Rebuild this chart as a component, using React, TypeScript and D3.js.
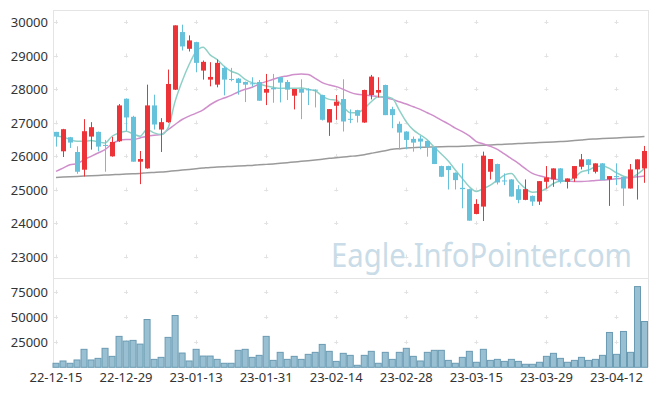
import React from 'react';
import * as d3 from 'd3';

// trading days shown on the chart
const dates = [
  '22-12-15', '22-12-16', '22-12-19', '22-12-20', '22-12-21', '22-12-22', '22-12-23', '22-12-26', '22-12-27', '22-12-28',
  '22-12-29', '23-01-02', '23-01-03', '23-01-04', '23-01-05', '23-01-06', '23-01-09', '23-01-10', '23-01-11', '23-01-12',
  '23-01-13', '23-01-16', '23-01-17', '23-01-18', '23-01-19', '23-01-20', '23-01-25', '23-01-26', '23-01-27', '23-01-30',
  '23-01-31', '23-02-01', '23-02-02', '23-02-03', '23-02-06', '23-02-07', '23-02-08', '23-02-09', '23-02-10', '23-02-13',
  '23-02-14', '23-02-15', '23-02-16', '23-02-17', '23-02-20', '23-02-21', '23-02-22', '23-02-23', '23-02-24', '23-02-27',
  '23-02-28', '23-03-02', '23-03-03', '23-03-06', '23-03-07', '23-03-08', '23-03-09', '23-03-10', '23-03-13', '23-03-14',
  '23-03-15', '23-03-16', '23-03-17', '23-03-20', '23-03-21', '23-03-22', '23-03-23', '23-03-24', '23-03-27', '23-03-28',
  '23-03-29', '23-03-30', '23-03-31', '23-04-03', '23-04-04', '23-04-05', '23-04-06', '23-04-07', '23-04-10', '23-04-11',
  '23-04-12', '23-04-13', '23-04-14', '23-04-17', '23-04-18',
];

const open = [
  26720, 26140, 26560, 26120, 25590, 26580, 26720, 26330, 25990, 26440,
  27710, 27170, 25830, 25630, 27510, 26790, 27010, 27980, 29700, 29200,
  29400, 28550, 28280, 28130, 28630, 28300, 28310, 28210, 28170, 28210,
  27890, 28030, 28350, 28210, 27800, 28000, 27990, 27980, 27820, 27000,
  27500, 27700, 27110, 27370, 27000, 27820, 27890, 28120, 27400, 26960,
  26730, 26510, 26520, 26450, 26260, 25700, 25700, 25500, 25050, 25010,
  24270, 24490, 25530, 25760, 25270, 25300, 25010, 24690, 24810, 24640,
  25230, 25300, 25630, 25230, 25330, 25680, 25900, 25530, 25780, 25300,
  25400, 25380, 25030, 25600, 25630,
];
const high = [
  26720, 26810, 26570, 26290, 27100, 27010, 26730, 26480, 26570, 27550,
  27720, 27200, 26150, 28130, 27830, 27130, 28580, 29900, 29920, 29600,
  29410, 28850, 28800, 28880, 28680, 28630, 28330, 28220, 28350, 28270,
  28450, 28450, 28350, 28270, 28000, 28290, 28020, 27990, 27830, 27400,
  27820, 28290, 27390, 27380, 27980, 28420, 28350, 28130, 27470, 27030,
  26740, 26580, 26600, 26460, 26270, 25710, 25710, 25510, 25780, 25020,
  24710, 26130, 25910, 25770, 25480, 25310, 25130, 25300, 24820, 25250,
  25700, 25630, 25640, 25330, 25700, 26060, 25910, 25780, 25790, 25400,
  25780, 25390, 25760, 25900, 26300,
];
const low = [
  26280, 25970, 26240, 25470, 25390, 26190, 26140, 25530, 25980, 26420,
  26750, 25830, 25160, 25620, 26790, 26120, 26990, 27970, 29150, 29120,
  28500, 28280, 28080, 28050, 27810, 28230, 27830, 27610, 28070, 27650,
  27520, 27590, 27600, 27670, 27390, 27100, 27520, 27450, 27060, 26600,
  27080, 26730, 26980, 27000, 26990, 27690, 27750, 27220, 26830, 26200,
  26200, 26130, 26200, 25980, 25760, 25370, 25000, 25000, 24440, 24070,
  24260, 24060, 25300, 25150, 25130, 24790, 24590, 24680, 24510, 24540,
  25030, 25080, 25180, 25030, 25230, 25600, 25460, 25480, 25280, 24510,
  25130, 24510, 25030, 24700, 25200,
];
const close = [
  26580, 26800, 26400, 25530, 26740, 26860, 26280, 26300, 26420, 27510,
  27150, 25830, 25910, 27510, 26940, 27010, 28150, 29900, 29270, 29450,
  28780, 28810, 28360, 28780, 28280, 28270, 28180, 28130, 28150, 27650,
  28000, 27990, 28190, 27980, 28000, 27890, 27970, 27960, 27080, 27400,
  27620, 27030, 27090, 27200, 27970, 28370, 27970, 27220, 27220, 26700,
  26480, 26400, 26430, 26260, 25760, 25380, 25580, 25280, 25010, 24070,
  24570, 26010, 25910, 25210, 25240, 24790, 24690, 25010, 24640, 25250,
  25360, 25630, 25230, 25330, 25700, 25900, 25730, 25780, 25280, 25400,
  25380, 25030, 25600, 25900, 26150,
];
const volume = [
  4000, 6300, 4000, 7300, 17900, 7300, 8900, 18900, 10900, 30800,
  26100, 26800, 23100, 47600, 7900, 9900, 29800, 51600, 14200, 6300,
  17900, 11200, 11200, 7900, 4000, 4000, 16900, 17900, 9900, 11900,
  30800, 6900, 14900, 7900, 10900, 7900, 12900, 14900, 22800, 15900,
  5900, 13900, 11900, 2000, 11900, 15900, 4000, 14900, 7900, 14900,
  18900, 10900, 6300, 14900, 16900, 16900, 6900, 4000, 9900, 15900,
  5000, 17900, 6900, 7900, 5900, 7900, 5900, 3000, 3000, 5000,
  10900, 13900, 8900, 5000, 6900, 9900, 6900, 7900, 11900, 34700,
  12900, 35700, 14900, 80400, 45600,
];

// moving averages (they include days before the window)
const ma5 = [
  26590, 26570, 26490, 26440, 26440, 26460, 26420, 26390, 26590, 26690,
  26740, 26660, 26590, 26790, 26690, 26640, 26840, 27630, 28230, 28730,
  29120, 29250, 29020, 28880, 28680, 28530, 28450, 28290, 28190, 28150,
  28090, 28050, 28020, 28020, 28020, 28030, 27990, 27950, 27790, 27690,
  27670, 27470, 27290, 27290, 27420, 27620, 27770, 27770, 27720, 27370,
  27020, 26780, 26630, 26480, 26260, 26060, 25850, 25580, 25330, 25080,
  24940, 25030, 25130, 25280, 25430, 25480, 25230, 25030, 24920, 24940,
  25030, 25180, 25250, 25250, 25360, 25530, 25580, 25680, 25700, 25630,
  25500, 25400, 25360, 25460, 25630,
];
const ma20 = [
  25540, 25640, 25740, 25770, 25890, 25990, 26090, 26190, 26360, 26460,
  26490, 26490, 26540, 26590, 26620, 26640, 26790, 26940, 27090, 27190,
  27280, 27380, 27530, 27650, 27730, 27810, 27910, 27990, 28050, 28150,
  28220, 28290, 28350, 28390, 28430, 28450, 28430, 28320, 28190, 28120,
  28070, 27990, 27900, 27840, 27820, 27800, 27770, 27740, 27690, 27620,
  27550, 27470, 27390, 27290, 27190, 27070, 26960, 26830, 26730, 26600,
  26430, 26360, 26290, 26200, 26060, 25920, 25780, 25620, 25480, 25410,
  25360, 25320, 25280, 25250, 25240, 25240, 25250, 25270, 25280, 25300,
  25320, 25340, 25360, 25380, 25400,
];
const ma60 = [
  25360, 25370, 25380, 25390, 25400, 25410, 25420, 25430, 25440, 25450,
  25460, 25470, 25480, 25500, 25510, 25520, 25540, 25560, 25580, 25600,
  25620, 25640, 25660, 25670, 25680, 25690, 25700, 25710, 25720, 25740,
  25750, 25760, 25780, 25800, 25820, 25840, 25860, 25880, 25900, 25930,
  25950, 25970, 25990, 26010, 26040, 26080, 26120, 26160, 26200, 26220,
  26240, 26250, 26260, 26265, 26270, 26275, 26280, 26285, 26290, 26300,
  26310, 26320, 26330, 26340, 26350, 26360, 26370, 26380, 26390, 26400,
  26410, 26420, 26430, 26440, 26460, 26480, 26500, 26510, 26520, 26530,
  26540, 26550, 26560, 26570, 26580,
];

const priceTicks = [23000, 24000, 25000, 26000, 27000, 28000, 29000, 30000];
const volumeTicks = [25000, 50000, 75000];
const dateTicks = ['22-12-15', '22-12-29', '23-01-13', '23-01-31', '23-02-14', '23-02-28', '23-03-15', '23-03-29', '23-04-12'];

const W = 657;
const H = 396;
const left = 53;
const right = 648;
const top = 10;
const split = 278;
const bottom = 367.3;

const UP = '#ec3338';
const DOWN = '#66c2da';
const FONT = '"Noto Sans", sans-serif';

export default function App() {
  const x = d3.scaleBand<number>().domain(d3.range(dates.length)).range([left - 0.5, right]).padding(0);
  const bw = x.bandwidth();
  const cx = (i: number) => (x(i) as number) + bw / 2;

  const y = d3.scaleLinear().domain([23000, 30000]).range([256.5, 22]);
  const yv = d3.scaleLinear().domain([0, 75000]).range([bottom, 292]);

  const line = (vals: number[]) =>
    d3.line<number>().x((_, i) => cx(i)).y((d) => y(d)).curve(d3.curveMonotoneX)(vals) as string;

  const tickIdx = dateTicks.map((t) => dates.indexOf(t));

  return (
    <div style={{ position: 'fixed', left: 0, top: 0 }}>
      <svg width={W} height={H} style={{ display: 'block', background: '#fff' }}>
        {/* frames */}
        <g stroke="#e4e4e4" fill="none" strokeWidth={1}>
          <line x1={left} x2={right} y1={top + 0.5} y2={top + 0.5} />
          <line x1={left} x2={right} y1={split + 0.5} y2={split + 0.5} />
          <line x1={left + 0.5} x2={left + 0.5} y1={top} y2={bottom} />
          <line x1={right + 0.5} x2={right + 0.5} y1={top} y2={bottom} />
        </g>

        {/* grid crosses */}
        <g stroke="#e2e2e2" strokeWidth={1}>
          {tickIdx.map((i) =>
            [...priceTicks.map((p) => y(p)), ...volumeTicks.map((v) => yv(v))].map((yy, k) => (
              <g key={`${i}-${k}`}>
                <line x1={cx(i) - 2} x2={cx(i) + 2} y1={Math.round(yy) + 0.5} y2={Math.round(yy) + 0.5} />
                <line x1={Math.round(cx(i)) + 0.5} x2={Math.round(cx(i)) + 0.5} y1={yy - 2} y2={yy + 2} />
              </g>
            ))
          )}
        </g>

        {/* watermark */}
        <text x={331} y={267} fontFamily={FONT} fontSize={32} fill="#c9dce7" textLength={301} lengthAdjust="spacingAndGlyphs">
          Eagle.InfoPointer.com
        </text>

        {/* volume */}
        <g>
          {volume.map((v, i) => (
            <rect
              key={i}
              x={(x(i) as number) + 0.5}
              y={yv(v)}
              width={bw - 1}
              height={bottom - yv(v)}
              fill="#98c0d2"
              stroke="#6a9ab2"
              strokeWidth={1}
            />
          ))}
        </g>

        {/* moving averages */}
        <path d={line(ma60)} fill="none" stroke="#9a9a9a" strokeWidth={1.5} />
        <path d={line(ma20)} fill="none" stroke="#cf8fcb" strokeWidth={1.5} />
        <path d={line(ma5)} fill="none" stroke="#8fd0c6" strokeWidth={1.5} />

        {/* candles */}
        <g>
          {dates.map((d, i) => {
            const up = close[i] > open[i];
            const c = up ? UP : DOWN;
            const bx = Math.round(cx(i));
            const yTop = y(Math.max(open[i], close[i]));
            const yBot = y(Math.min(open[i], close[i]));
            return (
              <g key={d}>
                <line x1={bx + 0.5} x2={bx + 0.5} y1={y(high[i])} y2={y(low[i])} stroke={c} strokeWidth={1} />
                <rect x={bx - 2} y={yTop} width={5} height={Math.max(1, yBot - yTop)} fill={c} />
              </g>
            );
          })}
        </g>

        {/* axis labels */}
        <g fontFamily={FONT} fontSize={13} fill="#333">
          {priceTicks.map((p) => (
            <text key={p} x={48} y={y(p)} textAnchor="end" dominantBaseline="central">
              {p}
            </text>
          ))}
          {volumeTicks.map((v) => (
            <text key={v} x={48} y={yv(v)} textAnchor="end" dominantBaseline="central">
              {v}
            </text>
          ))}
          {tickIdx.map((i) => (
            <text key={i} x={cx(i)} y={377} textAnchor="middle" dominantBaseline="central">
              {dates[i]}
            </text>
          ))}
        </g>
      </svg>
    </div>
  );
}
